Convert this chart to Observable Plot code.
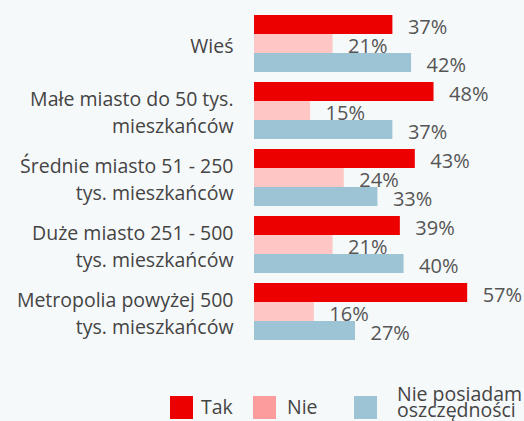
<!DOCTYPE html>
<html>
<head>
<meta charset="utf-8">
<script src="https://cdn.jsdelivr.net/npm/d3@7"></script>
<script src="https://cdn.jsdelivr.net/npm/@observablehq/plot@0.6"></script>
<style>
  html, body { margin: 0; padding: 0; background: #f6f9fa; }
  #wrap { position: relative; width: 524px; height: 421px; overflow: hidden; font-family: "Open Sans", sans-serif; color: #444; }
  .sw { position: absolute; width: 23px; height: 23px; }
  .lt { position: absolute; font-size: 19.5px; line-height: 16px; white-space: nowrap; }
</style>
</head>
<body>
<div id="wrap"></div>
<script>
const categories = [
  "Wieś",
  "Małe miasto do 50 tys.\nmieszkańców",
  "Średnie miasto 51 - 250\ntys. mieszkańców",
  "Duże miasto 251 - 500\ntys. mieszkańców",
  "Metropolia powyżej 500\ntys. mieszkańców"
];
const series = ["Tak", "Nie", "Nie posiadam oszczędności"];
const tak = [37, 48, 43, 39, 57];
const nie = [21, 15, 24, 21, 16];
const brak = [42, 37, 33, 40, 27];
const barColors = ["#ec0000", "#ffc6c6", "#9dc4d5"];
const legendColors = ["#ec0000", "#fd9c9c", "#9dc4d5"];

const values = [tak, nie, brak];
const data = [];
categories.forEach((c, i) => series.forEach((s, j) => data.push({category: c, series: s, value: values[j][i]})));

const chart = Plot.plot({
  width: 524,
  height: 380,
  marginLeft: 254,
  marginRight: 45.6,
  marginTop: 14,
  marginBottom: 39,
  style: {background: "transparent", fontFamily: "Open Sans, sans-serif"},
  x: {domain: [0, 60], axis: null},
  y: {domain: series, axis: null, padding: 0},
  fy: {domain: categories, axis: null, paddingInner: 0.12, paddingOuter: 0},
  color: {domain: series, range: barColors},
  marks: [
    Plot.barX(data, {fy: "category", y: "series", x: "value", fill: "series"}),
    Plot.text(data, {fy: "category", y: "series", x: "value", text: d => d.value + "%", textAnchor: "start", dx: 15, dy: 3, fontSize: 20, fill: "#555"}),
    Plot.text(categories, {fy: d => d, text: d => d, frameAnchor: "left", textAnchor: "end", dx: -21, fontSize: 19.5, lineHeight: 1.385, fill: "#444"})
  ]
});
const wrap = document.getElementById("wrap");
wrap.appendChild(chart);

const legendItems = [
  {label: "Tak", sx: 170, tx: 201, ty: 399},
  {label: "Nie", sx: 253, tx: 287, ty: 399},
  {label: "Nie posiadam<br>oszczędności", sx: 354, tx: 397, ty: 386}
];
legendItems.forEach((it, i) => {
  const sw = document.createElement("div");
  sw.className = "sw";
  sw.style.left = it.sx + "px";
  sw.style.top = "396px";
  sw.style.background = legendColors[i];
  wrap.appendChild(sw);
  const t = document.createElement("div");
  t.className = "lt";
  t.style.left = it.tx + "px";
  t.style.top = it.ty + "px";
  t.innerHTML = it.label;
  wrap.appendChild(t);
});
</script>
</body>
</html>
